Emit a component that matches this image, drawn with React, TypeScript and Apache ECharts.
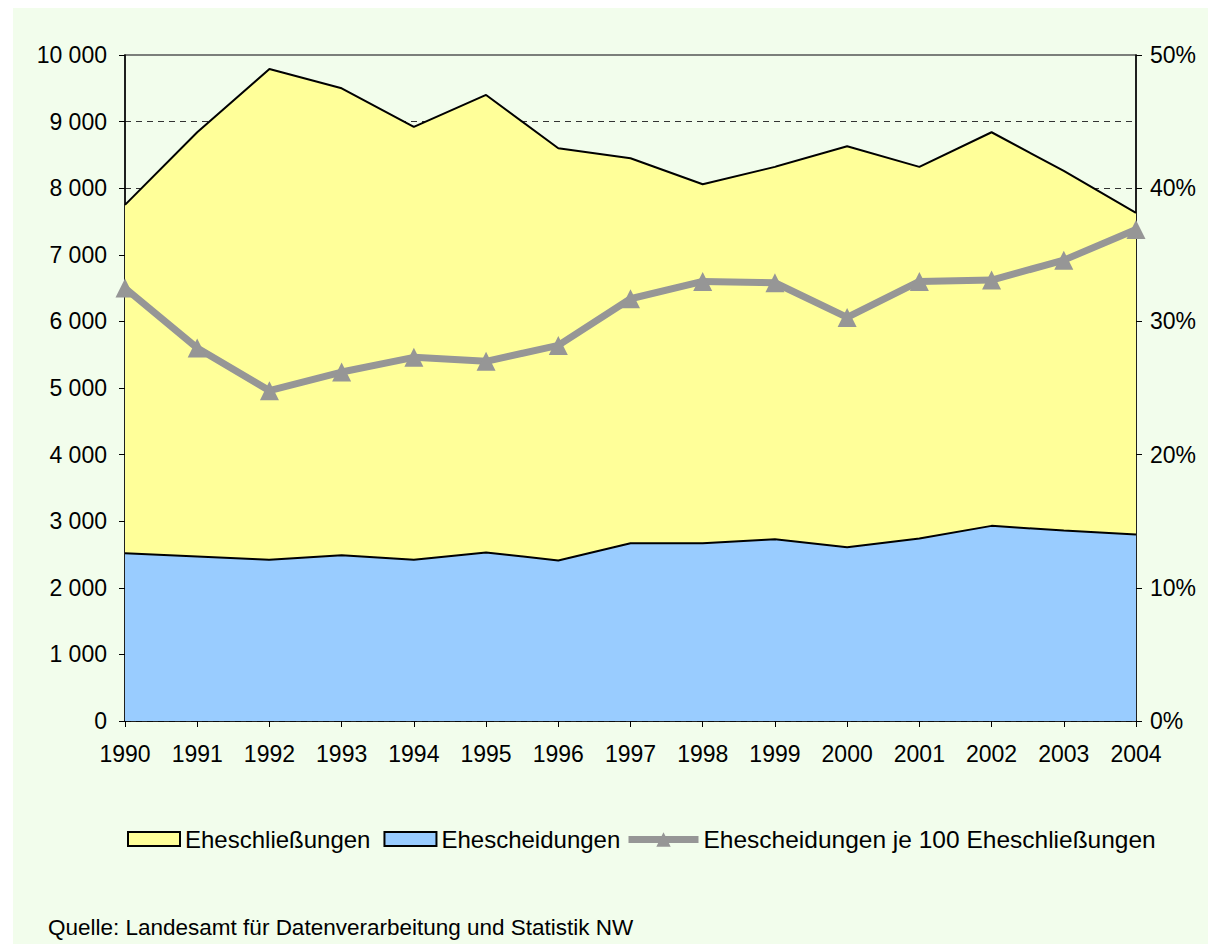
import React, { useEffect, useRef } from "react";
import * as echarts from "echarts";

const years = ["1990","1991","1992","1993","1994","1995","1996","1997","1998","1999","2000","2001","2002","2003","2004"];
const eheschliessungen = [7750, 8840, 9790, 9500, 8920, 9400, 8600, 8450, 8060, 8320, 8630, 8320, 8840, 8260, 7630];
const ehescheidungen = [2520, 2470, 2420, 2490, 2420, 2530, 2410, 2670, 2670, 2730, 2610, 2740, 2930, 2860, 2800];
const jeHundert = [32.5, 28.0, 24.8, 26.2, 27.3, 27.0, 28.2, 31.7, 33.0, 32.9, 30.3, 33.0, 33.1, 34.6, 36.9];

const nameA = "Eheschließungen";
const nameB = "Ehescheidungen";
const nameC = "Ehescheidungen je 100 Eheschließungen";
const source = "Quelle: Landesamt für Datenverarbeitung und Statistik NW";

const FONT = "'Liberation Sans', Arial, sans-serif";
const BG = "#f2fdec";

export default function App() {
  const ref = useRef<HTMLDivElement>(null);
  useEffect(() => {
    if (!ref.current) return;
    document.documentElement.style.overflow = "hidden";
    const chart = echarts.init(ref.current, null, { renderer: "svg" });
    chart.setOption({
      animation: false,
      backgroundColor: BG,
      textStyle: { fontFamily: FONT },
      grid: {
        left: 112, top: 47, right: 72, bottom: 223,
        show: true, borderColor: "#555", borderWidth: 1.5, backgroundColor: "transparent",
      },
      legend: [
        {
          left: 109, top: 814,
          itemWidth: 52, itemHeight: 14, itemGap: 13,
          textStyle: { fontFamily: FONT, fontSize: 24, color: "#000" },
          data: [
            { name: nameA, icon: "rect", itemStyle: { color: "#ffff99", borderColor: "#000", borderWidth: 2 } },
            { name: nameB, icon: "rect", itemStyle: { color: "#99ccff", borderColor: "#000", borderWidth: 2 } },
          ],
        },
        {
          left: 607, top: 814,
          itemWidth: 70, itemHeight: 18,
          textStyle: { fontFamily: FONT, fontSize: 24.5, color: "#000" },
          lineStyle: { width: 7, color: "#969696" },
          data: [{ name: nameC }],
        },
      ],
      xAxis: {
        type: "category",
        data: years,
        boundaryGap: false,
        axisLine: { lineStyle: { color: "#000", width: 1.5 } },
        axisTick: { show: true, length: 6, lineStyle: { color: "#000" } },
        axisLabel: { color: "#000", fontSize: 23, margin: 21, fontFamily: FONT },
      },
      yAxis: [
        {
          type: "value", min: 0, max: 10000, interval: 1000,
          axisLine: { show: true, lineStyle: { color: "#000", width: 1.5 } },
          axisTick: { show: true, length: 6, lineStyle: { color: "#000" } },
          axisLabel: {
            color: "#000", fontSize: 23, margin: 18, fontFamily: FONT,
            formatter: (v: number) => (v >= 1000 ? Math.floor(v / 1000) + " " + String(v % 1000).padStart(3, "0") : String(v)),
          },
          splitLine: { show: true, showMaxLine: false, lineStyle: { color: "#333", type: [6, 5], width: 1 } },
        },
        {
          type: "value", min: 0, max: 50, interval: 10, position: "right",
          axisLine: { show: true, lineStyle: { color: "#000", width: 1.5 } },
          axisTick: { show: true, length: 6, lineStyle: { color: "#000" } },
          axisLabel: { color: "#000", fontSize: 23, margin: 14, fontFamily: FONT, formatter: "{value}%" },
          splitLine: { show: false },
        },
      ],
      series: [
        {
          name: nameA, type: "line", data: eheschliessungen, symbol: "none",
          lineStyle: { color: "#000", width: 2 },
          itemStyle: { color: "#ffff99" },
          areaStyle: { color: "#ffff99", opacity: 1 },
          z: 2,
        },
        {
          name: nameB, type: "line", data: ehescheidungen, symbol: "none",
          lineStyle: { color: "#000", width: 2 },
          itemStyle: { color: "#99ccff" },
          areaStyle: { color: "#99ccff", opacity: 1 },
          z: 3,
        },
        {
          name: nameC, type: "line", data: jeHundert, yAxisIndex: 1,
          symbol: "triangle", symbolSize: 19,
          lineStyle: { color: "#969696", width: 7 },
          itemStyle: { color: "#969696" },
          z: 4,
        },
      ],
      graphic: [
        {
          type: "text", left: 35, top: 908,
          style: { text: source, fontFamily: FONT, fontSize: 22.5, fill: "#000" },
        },
      ],
    });
    return () => chart.dispose();
  }, []);
  return (
    <div style={{ position: "fixed", left: 13, top: 8, right: -20, bottom: -20, background: BG }}>
      <div ref={ref} style={{ position: "absolute", left: 0, top: 0, width: 1195, height: 936 }} />
    </div>
  );
}
